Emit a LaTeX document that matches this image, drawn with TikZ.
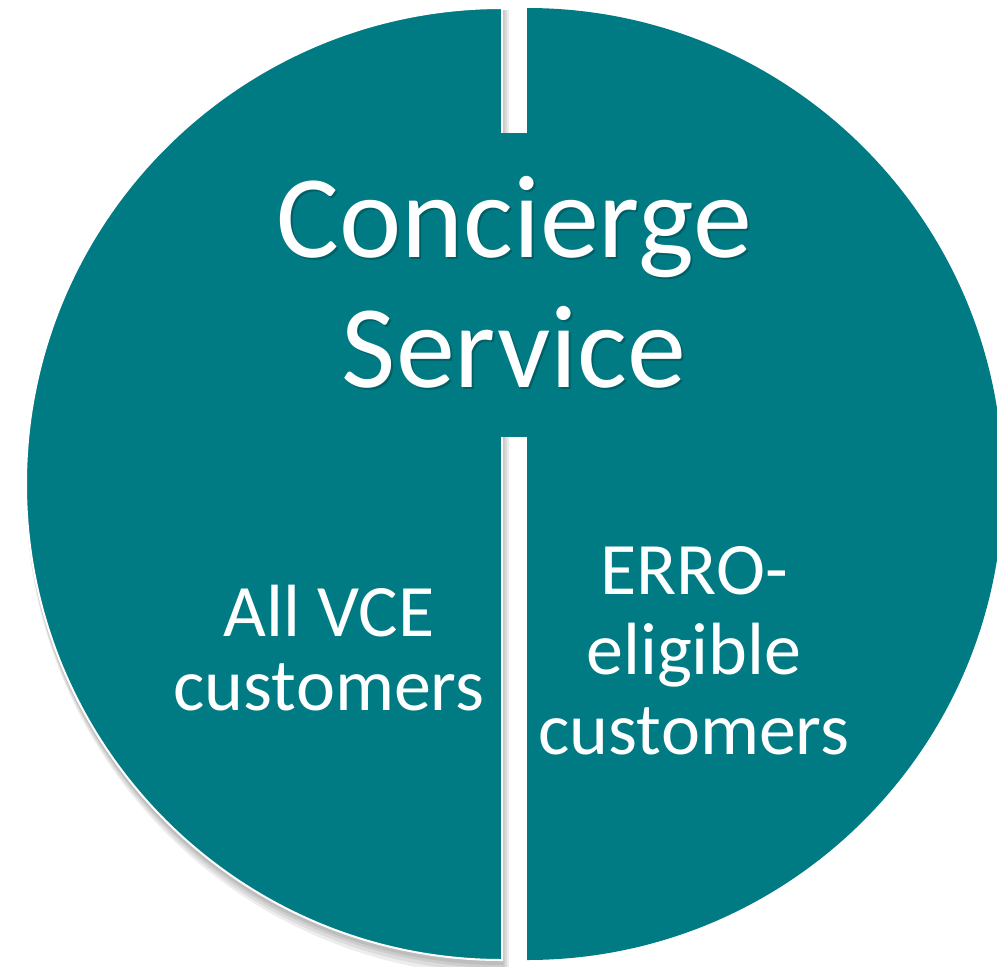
\documentclass[tikz,border=0pt]{standalone}
\usepackage{fontspec}
\setmainfont{Carlito}
\definecolor{teal}{RGB}{0,123,132}
\definecolor{tealdark}{RGB}{0,70,76}
\tikzset{
  half/.style={fill=teal},
  lefthalf/.style={fill=teal, draw=white, line width=2pt},
  shadowlayer/.style={fill=black, fill opacity=0.07},
  titlebox/.style={fill=teal, draw=none},
  label/.style={text=white, align=center, inner sep=0pt, font=\fontsize{74}{74}\selectfont},
  titletext/.style={text=white, align=center, inner sep=0pt, font=\fontsize{118}{130}\selectfont},
}
\begin{document}
\begin{tikzpicture}[x=1pt, y=-1pt]
  \useasboundingbox (0,0) rectangle (997,967);
  \clip (0,0) rectangle (997,967);
  \fill[white] (0,0) rectangle (997,967);

  % soft shadow under the left half
  \foreach \g in {7,5,3,1.5}{
    \path[shadowlayer] (502+\g, 8+2) arc[start angle=-90, end angle=-270, radius=476+\g] -- cycle;
  }

  % right half
  \path[half] (527,8) arc[start angle=-90, end angle=90, radius=476] -- cycle;

  % left half with white rim
  \path[lefthalf] (502,8) arc[start angle=-90, end angle=-270, radius=476] -- cycle;

  % title box bridging the gap
  \path[titlebox] (262,133) rectangle (762,437);

  % title with drop shadow
  \node[titletext, text=tealdark, opacity=0.5] at (516,284) {Concierge\\Service};
  \node[titletext] (title) at (514,282) {Concierge\\Service};

  % labels of the two halves
  \node[label] (leftlbl) at (329,648) {All VCE\\customers};
  \node[label, font=\fontsize{74}{80}\selectfont] (rightlbl) at (694,651) {ERRO-\\eligible\\customers};
\end{tikzpicture}
\end{document}
